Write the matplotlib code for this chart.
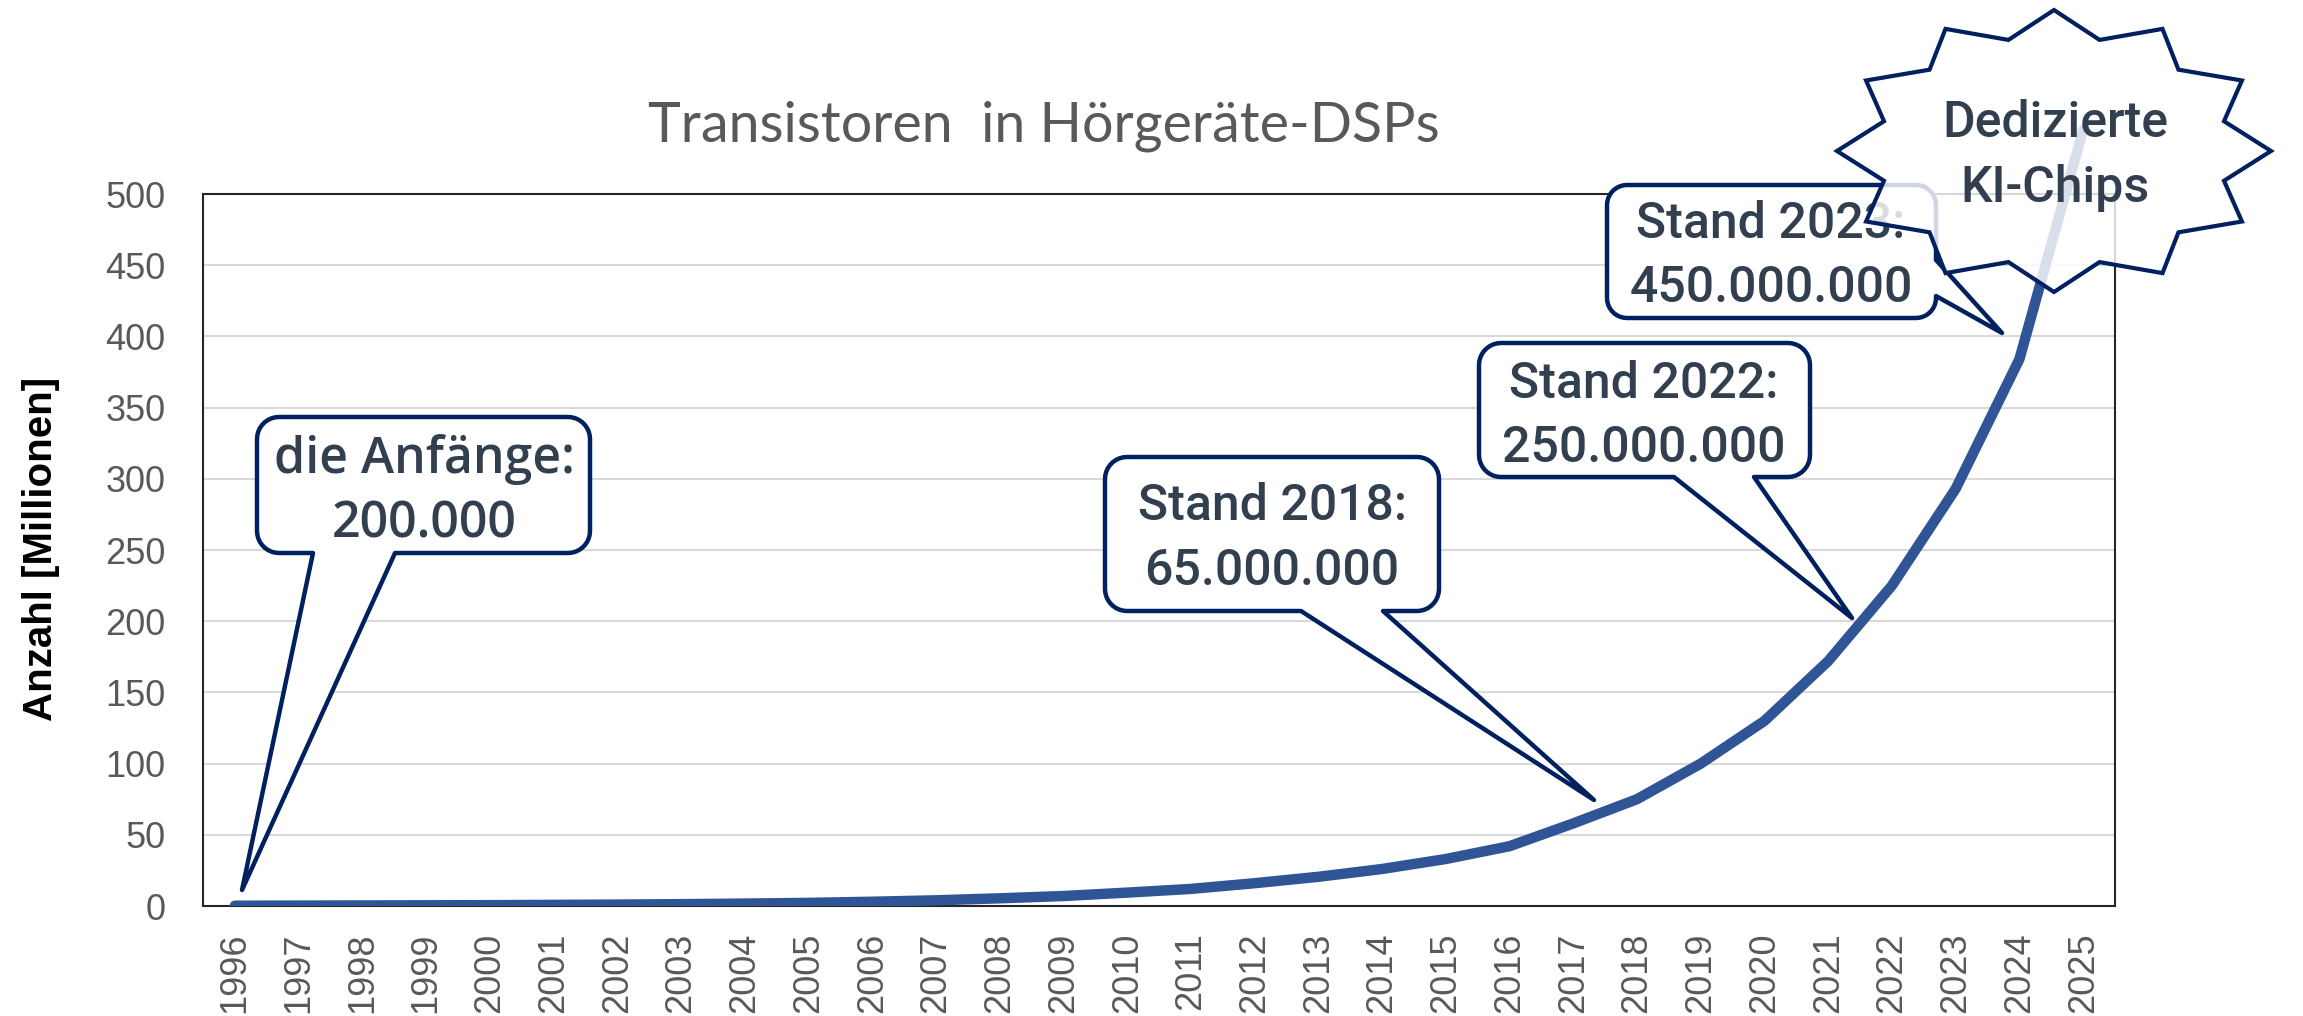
import numpy as np
import matplotlib
matplotlib.use("Agg")
import matplotlib.pyplot as plt
from matplotlib.patches import Polygon
from matplotlib.transforms import Affine2D, Bbox, TransformedBbox

plt.rcParams['font.family'] = ['Liberation Sans', 'DejaVu Sans']

# data (Mio. Transistoren)
years = list(range(1996, 2026))
transistors_mio = [0.2, 0.3, 0.4, 0.5, 0.6, 0.8, 1.0, 1.3, 1.7, 2.2,
                   3.0, 4.0, 5.4, 7.0, 9.4, 12.0, 16.0, 20.5, 26.0, 33.0,
                   42.0, 58.0, 75.0, 100.0, 130.0, 172.0, 225.0, 293.0, 384.0, 545.0]
y_ticks = list(range(0, 501, 50))

title = "Transistoren  in Hörgeräte-DSPs"
y_label = "Anzahl [Millionen]"
callout_lines = [("die Anfänge:", "200.000"),
                 ("Stand 2018:", "65.000.000"),
                 ("Stand 2022:", "250.000.000"),
                 ("Stand 2023:", "450.000.000")]
star_lines = ("Dedizierte", "KI-Chips")

W, H = 2303, 1016
fig = plt.figure(figsize=(W / 100, H / 100), dpi=100)
ax = fig.add_axes([203 / W, 1 - 906 / H, (2115 - 203) / W, (906 - 194) / H])

# pixel coords of the reference picture, origin top-left
pix = Affine2D().scale(1 / W, -1 / H).translate(0, 1) + fig.transFigure

x = np.arange(len(years))
line, = ax.plot(x, transistors_mio, color="#2F5597", lw=7.5,
                solid_capstyle="round", solid_joinstyle="round", zorder=4)
# clip at the bottom only, the 2025 value runs out over the top
line.set_clip_path(None)
line.set_clip_box(TransformedBbox(Bbox([[0, 0], [1, 1.6]]), ax.transAxes))

ax.set_xlim(-0.5, len(years) - 0.5)
ax.set_ylim(0, 500)
ax.set_yticks(y_ticks)
ax.set_xticks(x)
ax.set_xticklabels([str(y) for y in years], rotation=90)
ax.yaxis.grid(True, color="#D9D9D9", lw=1.5)
ax.set_axisbelow(True)
ax.tick_params(length=0, labelsize=26, labelcolor="#595959")
ax.tick_params(axis="y", pad=27)
ax.tick_params(axis="x", pad=19)
for s in ax.spines.values():
    s.set_color("#262626")
    s.set_linewidth(1.5)

fig.text(1044, 142, title, transform=pix, ha="center", va="baseline",
         fontsize=40, color="#595959", family=["Lato", "DejaVu Sans"])
fig.text(41, 549, y_label, transform=pix, ha="center", va="center",
         rotation=90, fontsize=29, fontweight="bold", color="black",
         family=["Liberation Sans Narrow", "Liberation Sans"])


def callout_outline(x0, y0, x1, y1, r, side, a, b, tip):
    pts = []

    def corner(cx, cy, t0, t1):
        for t in np.linspace(t0, t1, 10):
            pts.append((cx + r * np.cos(t), cy + r * np.sin(t)))

    corner(x0 + r, y0 + r, np.pi, 1.5 * np.pi)
    corner(x1 - r, y0 + r, 1.5 * np.pi, 2 * np.pi)
    if side == "right":
        pts.extend([(x1, a), tip, (x1, b)])
    corner(x1 - r, y1 - r, 0, 0.5 * np.pi)
    if side == "bottom":
        pts.extend([(b, y1), tip, (a, y1)])
    corner(x0 + r, y1 - r, 0.5 * np.pi, np.pi)
    return pts


navy = "#002060"
txt_col = "#323F4F"
boxes = [
    # box, radius, tail side, tail a, tail b, tip, text x, baselines, font, weight
    ((257, 417, 590, 553), 22, "bottom", 313, 395, (242, 890), 424, (473, 537), "Open Sans", "semibold"),
    ((1105, 457, 1439, 611), 22, "bottom", 1301, 1383, (1594, 800), 1272, (520, 585), "Roboto", "medium"),
    ((1479, 343, 1810, 477), 22, "bottom", 1674, 1754, (1852, 618), 1644, (398, 462), "Roboto", "medium"),
    ((1607, 185, 1936, 318), 20, "right", 260, 296, (2002, 333), 1771, (238, 302), "Roboto", "medium"),
]
for (box, r, side, a, b, tip, tx, bls, fam, wt), lines in zip(boxes, callout_lines):
    pts = callout_outline(*box, r, side, a, b, tip)
    fig.add_artist(Polygon(pts, closed=True, transform=pix, facecolor="white",
                           edgecolor=navy, lw=3.2, joinstyle="round", zorder=5))
    for bl, s in zip(bls, lines):
        fig.text(tx, bl, s, transform=pix, ha="center", va="baseline",
                 fontsize=36, fontweight=wt, color=txt_col,
                 family=[fam, "DejaVu Sans"], zorder=6)

# starburst
cx, cy = 2054, 151
star = []
for k in range(24):
    t = np.deg2rad(15 * k)
    rx, ry = (217, 141) if k % 2 == 0 else (176, 115)
    star.append((cx + rx * np.cos(t), cy - ry * np.sin(t)))
fig.add_artist(Polygon(star, closed=True, transform=pix, facecolor=(1, 1, 1, 0.82),
                       edgecolor=navy, lw=3.0, joinstyle="miter", zorder=7))
for bl, s in zip((137, 202), star_lines):
    fig.text(2055, bl, s, transform=pix, ha="center", va="baseline",
             fontsize=36, fontweight="medium", color=txt_col,
             family=["Roboto", "DejaVu Sans"], zorder=8)

fig.savefig("out.png", dpi=100)
